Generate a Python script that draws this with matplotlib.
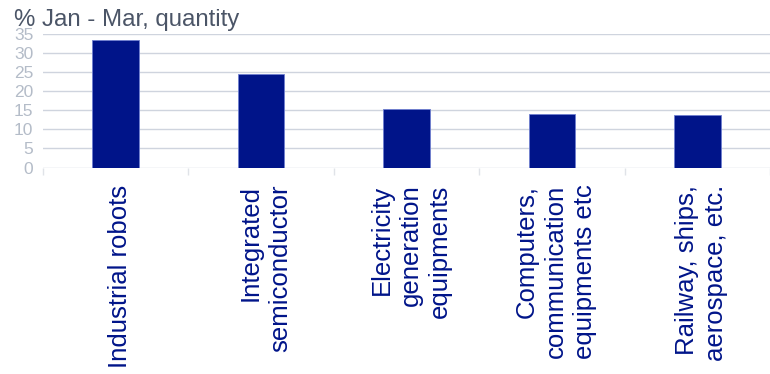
import numpy as np
import matplotlib.pyplot as plt

plt.rcParams['font.family'] = ['Liberation Sans', 'DejaVu Sans']

# share of growth, Jan - Mar, by product
categories = ["Industrial robots",
              "Integrated\nsemiconductor",
              "Electricity\ngeneration\nequipments",
              "Computers,\ncommunication\nequipments etc",
              "Railway, ships,\naerospace, etc."]
values = [33.4, 24.5, 15.4, 13.9, 13.8]
yticks = [0, 5, 10, 15, 20, 25, 30, 35]

navy = "#001489"
grid_col = "#cfd4de"
tick_col = "#b4bcc8"

fig = plt.figure(figsize=(7.7, 3.74), dpi=100)
ax = fig.add_axes([43/770, 1 - 167.5/374, 1 - 43/770, 133.5/374])

x = np.arange(len(categories))
ax.bar(x, values, width=0.32, color=navy, edgecolor="#6f7fd0", linewidth=0.6, zorder=3)

ax.set_xlim(-0.5, 4.48)
ax.set_ylim(0, 35)
ax.set_yticks(yticks)
ax.yaxis.grid(True, color=grid_col, linewidth=1, zorder=0)
ax.tick_params(axis='y', length=0, labelsize=12.5, labelcolor=tick_col, pad=7)

# category boundaries get the ticks, names sit under each bar
ax.set_xticks(np.arange(len(categories) + 1) - 0.5)
ax.set_xticklabels([])
ax.tick_params(axis='x', length=5, color="#e0e3e8", width=1)
for i, name in enumerate(categories):
    ax.text(i + 0.03, -4.5, name, rotation=90, ha='center', va='top', multialignment='right',
            fontsize=18.5, color=navy, linespacing=1.27)

for s in ax.spines.values():
    s.set_visible(False)

fig.text(14/770, 1 - 26/374, "% Jan - Mar, quantity", fontsize=17.3, color="#4b5567",
         ha='left', va='baseline')

fig.savefig("out.png", dpi=100)
